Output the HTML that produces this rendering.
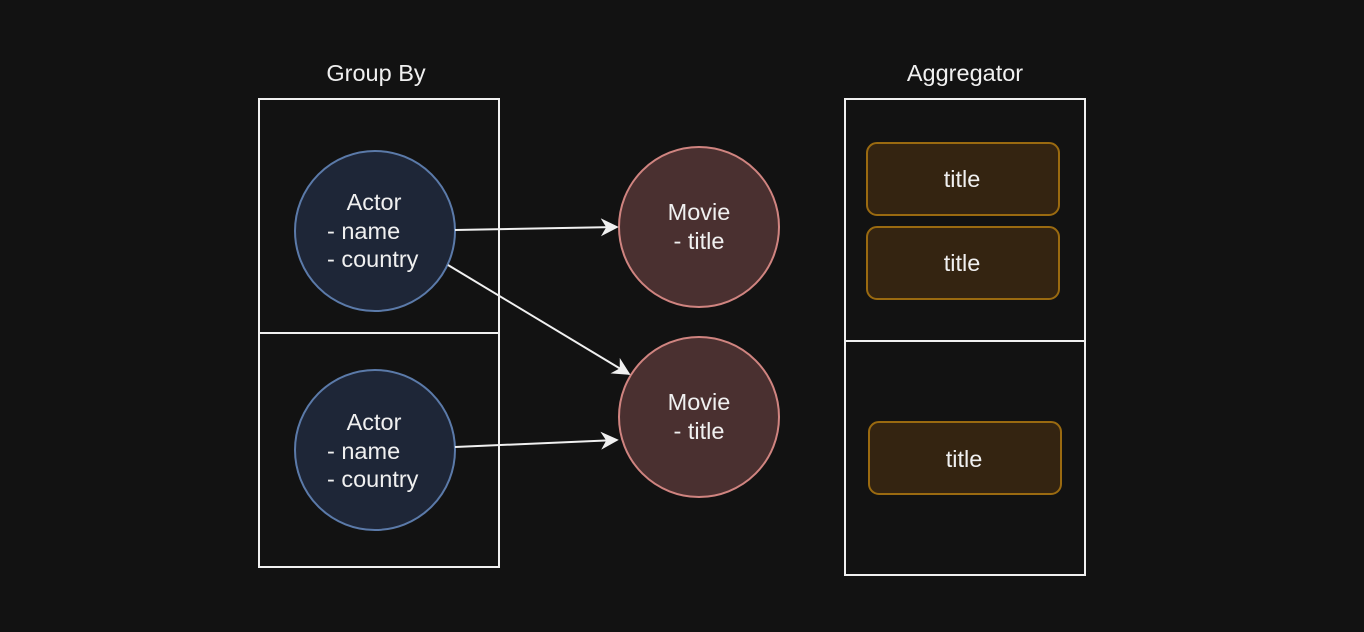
<!DOCTYPE html>
<html><head><style>
html,body{margin:0;padding:0;background:#121212;}
svg{display:block;}
text{font-family:"Liberation Sans",Arial,sans-serif;fill:#f0f0f0;font-size:23.5px;}
</style></head><body>
<svg width="1364" height="632" viewBox="0 0 1364 632" xmlns="http://www.w3.org/2000/svg">
<defs>
<marker id="ar" viewBox="0 0 10 10" refX="9" refY="5" markerWidth="18" markerHeight="18" markerUnits="userSpaceOnUse" orient="auto">
<path d="M0,0 L10,5 L0,10 L3,5 Z" fill="#f0f0f0"/>
</marker>
</defs>
<rect x="0" y="0" width="1364" height="632" fill="#121212"/>
<text x="376" y="81" text-anchor="middle">Group By</text>
<text x="965" y="81" text-anchor="middle">Aggregator</text>
<rect x="259" y="99" width="240" height="468" fill="none" stroke="#f0f0f0" stroke-width="2"/>
<line x1="259" y1="333" x2="499" y2="333" stroke="#f0f0f0" stroke-width="2"/>
<rect x="845" y="99" width="240" height="476" fill="none" stroke="#f0f0f0" stroke-width="2"/>
<line x1="845" y1="341" x2="1085" y2="341" stroke="#f0f0f0" stroke-width="2"/>

<circle cx="375" cy="231" r="80" fill="#1e2637" stroke="#5b7aa9" stroke-width="2"/>
<text x="374" y="210" text-anchor="middle">Actor</text>
<text x="327" y="239">- name</text>
<text x="327" y="267">- country</text>
<circle cx="375" cy="450" r="80" fill="#1e2637" stroke="#5b7aa9" stroke-width="2"/>
<text x="374" y="430" text-anchor="middle">Actor</text>
<text x="327" y="459">- name</text>
<text x="327" y="487">- country</text>

<circle cx="699" cy="227" r="80" fill="#4a3030" stroke="#d08480" stroke-width="2"/>
<text x="699" y="220" text-anchor="middle">Movie</text>
<text x="699" y="249" text-anchor="middle">- title</text>
<circle cx="699" cy="417" r="80" fill="#4a3030" stroke="#d08480" stroke-width="2"/>
<text x="699" y="410" text-anchor="middle">Movie</text>
<text x="699" y="439" text-anchor="middle">- title</text>

<line x1="455" y1="230" x2="617" y2="227" stroke="#f0f0f0" stroke-width="2" marker-end="url(#ar)"/>
<line x1="448" y1="265" x2="629" y2="374" stroke="#f0f0f0" stroke-width="2" marker-end="url(#ar)"/>
<line x1="455" y1="447" x2="617" y2="440" stroke="#f0f0f0" stroke-width="2" marker-end="url(#ar)"/>

<rect x="867" y="143" width="192" height="72" rx="10" fill="#342411" stroke="#9a6a10" stroke-width="2"/>
<text x="962" y="187" text-anchor="middle">title</text>
<rect x="867" y="227" width="192" height="72" rx="10" fill="#342411" stroke="#9a6a10" stroke-width="2"/>
<text x="962" y="271" text-anchor="middle">title</text>
<rect x="869" y="422" width="192" height="72" rx="10" fill="#342411" stroke="#9a6a10" stroke-width="2"/>
<text x="964" y="467" text-anchor="middle">title</text>
</svg>
</body></html>
